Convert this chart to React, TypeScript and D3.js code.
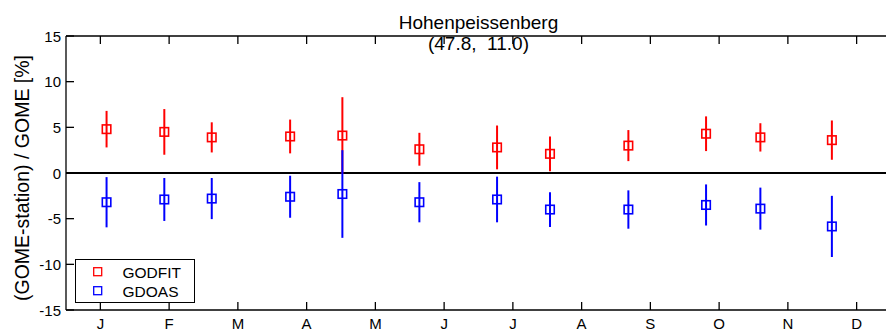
import React from 'react';
import * as d3 from 'd3';

const title = 'Hohenpeissenberg';
const subtitle = '(47.8,\u00a0\u00a011.0)';
const yLabel = '(GOME-station) / GOME [%]';

const monthLabels = ['J', 'F', 'M', 'A', 'M', 'J', 'J', 'A', 'S', 'O', 'N', 'D'];
const yTicks = [-15, -10, -5, 0, 5, 10, 15];

// position of each point along the month axis (0 = January tick)
const monthPos = [0.09, 0.93, 1.62, 2.76, 3.52, 4.64, 5.77, 6.54, 7.68, 8.81, 9.6, 10.64];

const godfit = [4.8, 4.5, 3.9, 4.0, 4.1, 2.6, 2.8, 2.1, 3.0, 4.3, 3.9, 3.6];
const godfitErr = [2.0, 2.5, 1.65, 1.85, 4.2, 1.8, 2.4, 1.9, 1.7, 1.9, 1.55, 2.15];
const gdoas = [-3.2, -2.9, -2.8, -2.6, -2.3, -3.2, -2.9, -4.0, -4.0, -3.5, -3.9, -5.85];
const gdoasErr = [2.75, 2.35, 2.25, 2.3, 4.8, 2.2, 2.5, 1.9, 2.1, 2.25, 2.3, 3.35];

const series = [
  { name: 'GODFIT', color: '#ff0000', values: godfit, errs: godfitErr },
  { name: 'GDOAS', color: '#0000ff', values: gdoas, errs: gdoasErr },
];

const W = 886;
const H = 332;
const left = 66;
const right = 891;
const top = 36;
const bottom = 310;
const font = '"Liberation Sans", Arial, sans-serif';

export default function App() {
  const x = d3.scaleLinear().domain([-0.5, 11.5]).range([left, right]);
  const y = d3.scaleLinear().domain([-15, 15]).range([bottom, top]);
  const sq = 8.5;
  const tickLen = 8;

  return (
    <svg
      width={W}
      height={H}
      style={{ position: 'absolute', left: 0, top: 0, background: '#fff' }}
      fontFamily={font}
    >
      <rect x={0} y={0} width={W} height={H} fill="#fff" />

      {/* zero line */}
      <line x1={left} x2={right} y1={y(0)} y2={y(0)} stroke="#000" strokeWidth={1.8} />

      {/* error bars and markers */}
      {series.map(s => (
        <g key={s.name}>
          {s.values.map((v, i) => (
            <g key={i}>
              <line
                x1={x(monthPos[i])}
                x2={x(monthPos[i])}
                y1={y(v + s.errs[i])}
                y2={y(v - s.errs[i])}
                stroke={s.color}
                strokeWidth={2}
              />
              <rect
                x={x(monthPos[i]) - sq / 2}
                y={y(v) - sq / 2}
                width={sq}
                height={sq}
                fill="none"
                stroke={s.color}
                strokeWidth={1.6}
              />
            </g>
          ))}
        </g>
      ))}

      {/* frame */}
      <line x1={left} x2={right} y1={top} y2={top} stroke="#000" strokeWidth={1.3} />
      <line x1={left} x2={right} y1={bottom} y2={bottom} stroke="#000" strokeWidth={1.3} />
      <line x1={left} x2={left} y1={top} y2={bottom} stroke="#000" strokeWidth={1.3} />

      {/* y ticks */}
      {yTicks.map(t => (
        <g key={t}>
          <line x1={left} x2={left + tickLen} y1={y(t)} y2={y(t)} stroke="#000" strokeWidth={1.3} />
          <text
            x={left - 5}
            y={y(t)}
            textAnchor="end"
            dominantBaseline="central"
            fontSize={15}
          >
            {String(t)}
          </text>
        </g>
      ))}

      {/* x ticks */}
      {monthLabels.map((m, i) => (
        <g key={i}>
          <line x1={x(i)} x2={x(i)} y1={top} y2={top + tickLen} stroke="#000" strokeWidth={1.3} />
          <line x1={x(i)} x2={x(i)} y1={bottom} y2={bottom - tickLen} stroke="#000" strokeWidth={1.3} />
          <text x={x(i)} y={329} textAnchor="middle" fontSize={15}>
            {m}
          </text>
        </g>
      ))}

      {/* titles */}
      <text x={(left + right) / 2} y={29} textAnchor="middle" fontSize={19}>
        {title}
      </text>
      <text x={(left + right) / 2} y={50} textAnchor="middle" fontSize={19}>
        {subtitle}
      </text>
      <text
        transform={`translate(29, ${(top + bottom) / 2 + 5}) rotate(-90)`}
        textAnchor="middle"
        fontSize={19.5}
      >
        {yLabel}
      </text>

      {/* legend */}
      <g>
        <rect x={75.5} y={259.5} width={119} height={43} fill="#fff" stroke="#000" strokeWidth={1} />
        {series.map((s, i) => (
          <g key={s.name}>
            <rect
              x={97.7 - 4}
              y={271.7 + i * 19 - 4}
              width={8}
              height={8}
              fill="none"
              stroke={s.color}
              strokeWidth={1.3}
            />
            <text x={122.5} y={278 + i * 19} fontSize={15.5}>
              {s.name}
            </text>
          </g>
        ))}
      </g>
    </svg>
  );
}
